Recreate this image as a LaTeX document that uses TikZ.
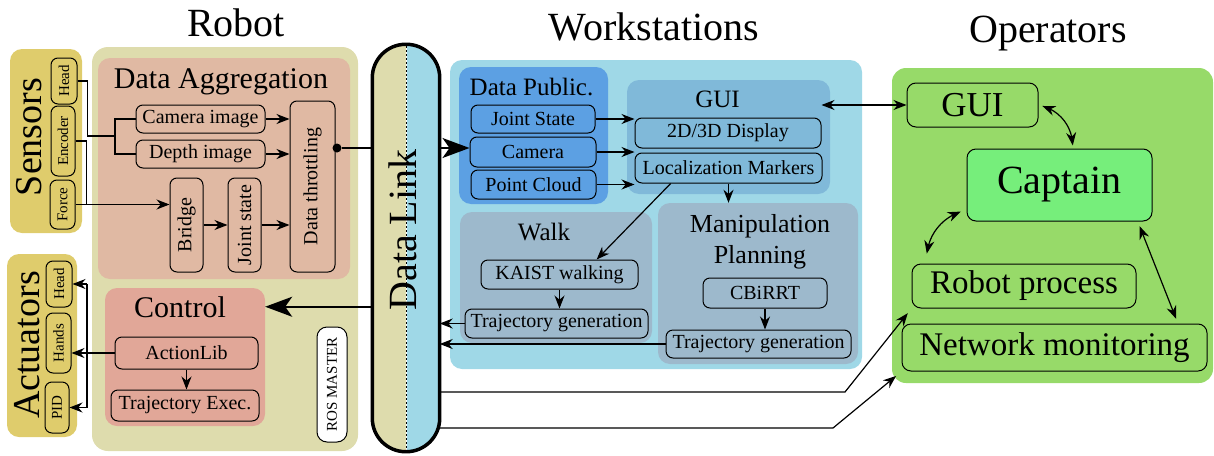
\documentclass[tikz,border=0pt]{standalone}
\usepackage{fontspec}
\setmainfont{Liberation Serif}
\usetikzlibrary{arrows.meta, bending}

\definecolor{sensY}{HTML}{DFCC6C}
\definecolor{robotBg}{HTML}{DEDCAD}
\definecolor{aggBg}{HTML}{E0B9A3}
\definecolor{ctrlBg}{HTML}{E1A798}
\definecolor{wsBg}{HTML}{9FD8E7}
\definecolor{pubBg}{HTML}{5CA0E3}
\definecolor{guiBg}{HTML}{80B9D9}
\definecolor{planBg}{HTML}{9DB9CC}
\definecolor{opsBg}{HTML}{97DA69}
\definecolor{captBg}{HTML}{76EE7B}

\tikzset{
  grp/.style={rounded corners=12pt, inner sep=0pt},
  itm/.style={draw, rounded corners=7pt, line width=1pt, inner sep=0pt},
  fs/.style={font=\fontsize{#1}{#1}\selectfont},
  sz/.style 2 args={minimum width=#1pt, minimum height=#2pt},
  wire/.style={line width=1.2pt},
  ar/.style={wire, arrows={-Stealth[length=13pt,width=10pt]}},
  dar/.style={wire, arrows={Stealth[length=13pt,width=10pt]-Stealth[length=13pt,width=10pt]}},
  bigar/.style={line width=1.8pt, arrows={-Stealth[length=27pt,width=20pt,inset=7pt]}},
}

\begin{document}
\begin{tikzpicture}[x=1pt,y=-1pt]
\useasboundingbox (0,0) rectangle (1214,455);

\node (RobotT) [fs=40, anchor=base] at (236,36) {Robot};
\node (WsT) [fs=40, anchor=base] at (654,40) {Workstations};
\node (OpT) [fs=40, anchor=base] at (1048,42) {Operators};

\node (Sensors) [grp, fill=sensY, sz={72}{184}] at (46,141) {};
\node (Actuators) [grp, fill=sensY, sz={70}{183}] at (42,345.5) {};
\node (Robot) [grp, rounded corners=16pt, fill=robotBg, sz={266}{404}] at (225,249) {};
\node (Agg) [grp, fill=aggBg, sz={252}{221}] at (224,168.5) {};
\node (Control) [grp, fill=ctrlBg, sz={160}{138}] at (185,357) {};

\node (SensT) [fs=38, rotate=90, anchor=base] at (41,137) {Sensors};
\node (SensHead) [itm, fs=15, rotate=90, sz={46}{26}] at (64,81) {Head};
\node (SensEnc) [itm, fs=15, rotate=90, sz={70}{24}] at (63,141) {Encoder};
\node (SensForce) [itm, fs=15, rotate=90, sz={49}{25}] at (62.5,204.5) {Force};

\node (ActT) [fs=38, rotate=90, anchor=base] at (39,345) {Actuators};
\node (ActuHead) [itm, fs=15, rotate=90, sz={46}{26}] at (59,284) {Head};
\node (ActuHands) [itm, fs=15, rotate=90, sz={60}{25}] at (58.5,343) {Hands};
\node (ActuPID) [itm, fs=15, rotate=90, sz={51}{24}] at (57,407.5) {PID};

\node (AggT) [fs=30, anchor=base] at (221,88) {Data Aggregation};
\node (CamImg) [itm, fs=20, sz={129}{28}] at (200.5,119) {Camera image};
\node (DepthImg) [itm, fs=20, sz={129}{28}] at (200.5,154) {Depth image};
\node (Bridge) [itm, fs=20, rotate=90, sz={94}{33}] at (186.5,225) {Bridge};
\node (JointSt) [itm, fs=20, rotate=90, sz={94}{33}] at (244.5,225) {Joint state};
\node (Throttle) [itm, fs=20, rotate=90, sz={171}{45}] at (312.5,186.5) {Data throttling};
\node (ThrDot) [circle, fill, inner sep=0pt, minimum size=9pt] at (337,148) {};

\node (CtrlT) [fs=30, anchor=base] at (180,317) {Control};
\node (ActLib) [itm, fs=20, sz={143}{32}] at (186.5,353) {ActionLib};
\node (TrajEx) [itm, fs=20, sz={148}{31}] at (185,405.5) {Trajectory Exec.};
\node (RosMaster) [itm, rounded corners=10pt, fill=white, fs=15, rotate=90, sz={115}{30}] at (332,384.5) {ROS MASTER};

\node (Link) [sz={67}{407}, inner sep=0pt] at (406,248) {};
\begin{scope}
  \clip[rounded corners=33.4pt] (Link.south west) rectangle (Link.north east);
  \fill[robotBg] (Link.south west) rectangle (Link.north);
  \fill[wsBg] (Link.south) rectangle (Link.north east);
  \draw[white, line width=0.9pt] (Link.south) -- (Link.north);
  \draw[line width=0.9pt, dash pattern=on 2pt off 2pt] (Link.south) -- (Link.north);
\end{scope}
\draw[line width=3.5pt, rounded corners=33.4pt] (Link.south west) rectangle (Link.north east);
\node (LinkT) [fs=40, rotate=90, anchor=base] at (416,230) {Data Link};

\node (Ws) [grp, fill=wsBg, sz={412}{309}] at (656,214.5) {};
\node (Pub) [grp, fill=pubBg, sz={149}{137}] at (533.5,135.5) {};
\node (GuiWs) [grp, fill=guiBg, sz={203}{114}] at (728.5,137) {};
\node (Walk) [grp, fill=planBg, sz={192}{131}] at (556,277.5) {};
\node (Manip) [grp, fill=planBg, sz={200}{161}] at (758,283.5) {};

\node (PubT) [fs=25, anchor=base] at (531.5,95) {Data Public.};
\node (PubJoint) [itm, fs=20, sz={124}{28}] at (533,119) {Joint State};
\node (PubCam) [itm, fs=20, sz={126}{30}] at (533,152) {Camera};
\node (PubCloud) [itm, fs=20, sz={125}{29}] at (533.5,184.5) {Point Cloud};

\node (GuiT) [fs=25, anchor=base] at (717.5,107) {GUI};
\node (Disp) [itm, fs=20, sz={186}{30}] at (728,133) {2D/3D Display};
\node (LocMark) [itm, fs=20, sz={187}{30}] at (728.5,168) {Localization Markers};

\node (WalkT) [fs=25, anchor=base] at (544,240) {Walk};
\node (KAIST) [itm, fs=20, sz={157}{29}] at (559.5,274.5) {KAIST walking};
\node (WalkTraj) [itm, fs=20, sz={183}{29}] at (556.5,323.5) {Trajectory generation};

\node (ManipT) [font=\fontsize{26}{31}\selectfont, align=center] at (760,241.4) {Manipulation\\Planning};
\node (CBiRRT) [itm, fs=20, sz={124}{30}] at (765,293) {CBiRRT};
\node (ManTraj) [itm, fs=20, sz={185}{28}] at (758.5,344) {Trajectory generation};

\node (Ops) [grp, rounded corners=14pt, fill=opsBg, sz={321}{315}] at (1052.5,225.5) {};
\node (OpGui) [itm, rounded corners=9pt, fs=35, sz={131}{44}] at (972.5,105) {GUI};
\node (Captain) [itm, rounded corners=9pt, fill=captBg, fs=40, sz={185}{72}] at (1059.5,185) {Captain};
\node (RobProc) [itm, rounded corners=9pt, fs=33, sz={224}{44}] at (1024,286) {Robot process};
\node (NetMon) [itm, rounded corners=9pt, fs=33, sz={305}{47}] at (1054.5,347.5) {Network monitoring};

\coordinate (Split) at (115,136);
\coordinate (Bus) at (87,300);
\coordinate (BendA) at (845,392);
\coordinate (BendB) at (833,428);

\draw[wire] (SensHead.south) -- ++(10,0) |- (Split);
\draw[wire] (CamImg.west) -| (Split) |- (DepthImg.west);
\draw[ar] (SensEnc.south) -- ++(11,0) |- (Bridge.north |- SensForce.south);
\draw[wire] (SensForce.south) -- ++(11,0);
\draw[ar] (CamImg.east) -- (CamImg.east -| Throttle.north);
\draw[ar] (DepthImg.east) -- (DepthImg.east -| Throttle.north);
\draw[ar] (Bridge.south) -- (JointSt.north);
\draw[ar] (JointSt.south) -- (JointSt.south -| Throttle.north);
\draw[wire] (ThrDot) -- (ThrDot -| Link.west);
\draw[bigar] (ThrDot -| Link.east) -- (ThrDot -| PubCam.west);
\draw[bigar] (CtrlT -| Link.west) -- (CtrlT -| Control.east);

\draw[wire] (Bus |- ActuHead) -- (Bus |- ActuPID);
\draw[ar] (Bus |- ActuHead) -- (ActuHead.south);
\draw[ar] (Bus |- ActuPID) -- (ActuPID.south);
\draw[ar] (ActLib.west) -- (ActLib.west -| ActuHands.south);
\draw[ar] (ActLib.south) -- (ActLib.south |- TrajEx.north);

\draw[ar] (PubJoint.east) -- (PubJoint.east -| Disp.west);
\draw[ar] (PubCam.east) -- (PubCam.east -| Disp.west);
\draw[ar] (PubCloud.east) -- (PubCloud.east -| Disp.west);
\draw[ar] (LocMark.south) -- (LocMark.south |- Manip.north);
\draw[ar] (LocMark.-165) -- (KAIST.22);
\draw[ar] (KAIST.south) -- (KAIST.south |- WalkTraj.north);
\draw[ar] (CBiRRT.south) -- (CBiRRT.south |- ManTraj.north);
\draw[ar] (WalkTraj.west) -- (WalkTraj.west -| Link.east);
\draw[ar] (ManTraj.west) -- (ManTraj.west -| Link.east);
\draw[dar] (OpGui.west -| Disp.east) -- (OpGui.west);

\draw[ar, shorten >=6pt] (BendA -| Link.east) -- (BendA) -- (RobProc.south west);
\draw[ar, shorten >=7pt] (BendB -| Link.east) -- (BendB) -- (NetMon.south west);

\draw[dar, shorten <=4pt, shorten >=3pt] (OpGui.east) to[bend left=40] (Captain.70);
\draw[dar, shorten <=6pt, shorten >=10pt] (Captain.195) to[bend right=40] (RobProc.167);
\draw[dar, shorten <=5pt, shorten >=5pt] (Captain.-25) -- (NetMon.11);
\end{tikzpicture}
\end{document}
